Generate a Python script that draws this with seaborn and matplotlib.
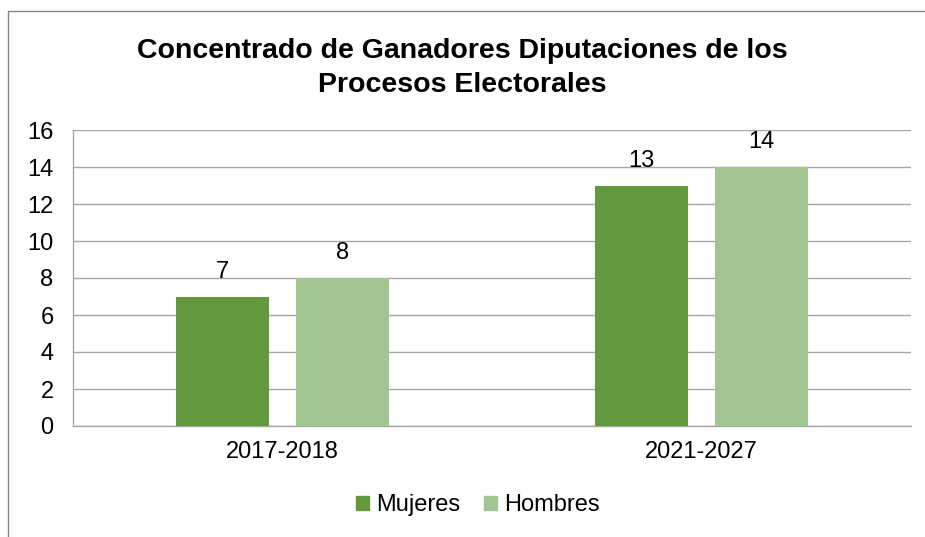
import pandas as pd
import matplotlib.pyplot as plt
import seaborn as sns
from matplotlib.patches import Rectangle

# datos del grafico
procesos = ['2017-2018', '2021-2027']
mujeres = [7, 13]
hombres = [8, 14]
series = ['Mujeres', 'Hombres']
colores = ['#63993D', '#A3C591']

df = pd.DataFrame({
    'Proceso': procesos * 2,
    'Genero': [series[0]] * len(procesos) + [series[1]] * len(procesos),
    'Valor': mujeres + hombres,
})

sns.set_style('white')
plt.rcParams['font.family'] = ['Liberation Sans', 'DejaVu Sans']
plt.rcParams['text.color'] = 'black'
plt.rcParams['xtick.color'] = 'black'
plt.rcParams['ytick.color'] = 'black'

fig = plt.figure(figsize=(9.25, 5.37), dpi=100)
ax = fig.add_axes([73 / 925, 111 / 537, 838 / 925, 296 / 537])

sns.barplot(data=df, x='Proceso', y='Valor', hue='Genero', palette=colores,
            width=0.573, gap=0.224, saturation=1, linewidth=0, ax=ax,
            legend=False, zorder=3)

for cont in ax.containers:
    ax.bar_label(cont, fmt='%g', fontsize=17, padding=10, color='black')

ax.set_ylim(0, 16)
ax.set_yticks(range(0, 17, 2))
ax.set_xlim(-0.5, 1.5)
ax.yaxis.grid(True, color='#A6A6A6', lw=1, zorder=0)
ax.set_axisbelow(True)
for s in ['top', 'right']:
    ax.spines[s].set_visible(False)
for s in ['left', 'bottom']:
    ax.spines[s].set_color('#A6A6A6')
    ax.spines[s].set_linewidth(1)
ax.tick_params(axis='y', length=0, pad=14, labelsize=17, labelcolor='black')
ax.tick_params(axis='x', length=0, pad=11, labelsize=17, labelcolor='black')
ax.set_xlabel('')
ax.set_ylabel('')

fig.text(0.5, 1 - 68 / 537, 'Concentrado de Ganadores Diputaciones de los\nProcesos Electorales',
         ha='center', va='center', fontsize=20.5, fontweight='bold', linespacing=1.35,
         color='black')

handles = [Rectangle((0, 0), 1, 1, color=c) for c in colores]
leg = fig.legend(handles, series, loc='center', bbox_to_anchor=(478 / 925, 1 - 505 / 537),
                 ncol=2, frameon=False, fontsize=17, handlelength=0.55, handleheight=0.55,
                 handletextpad=0.3, columnspacing=1.0)
for t in leg.get_texts():
    t.set_color('black')

# marco del area del grafico
fig.patches.append(Rectangle((8 / 925, -0.1), 1.1, 1.1 - 10.7 / 537,
                             transform=fig.transFigure, fill=False,
                             edgecolor='#868686', lw=1))

fig.savefig('out.png', dpi=100, facecolor='white')
